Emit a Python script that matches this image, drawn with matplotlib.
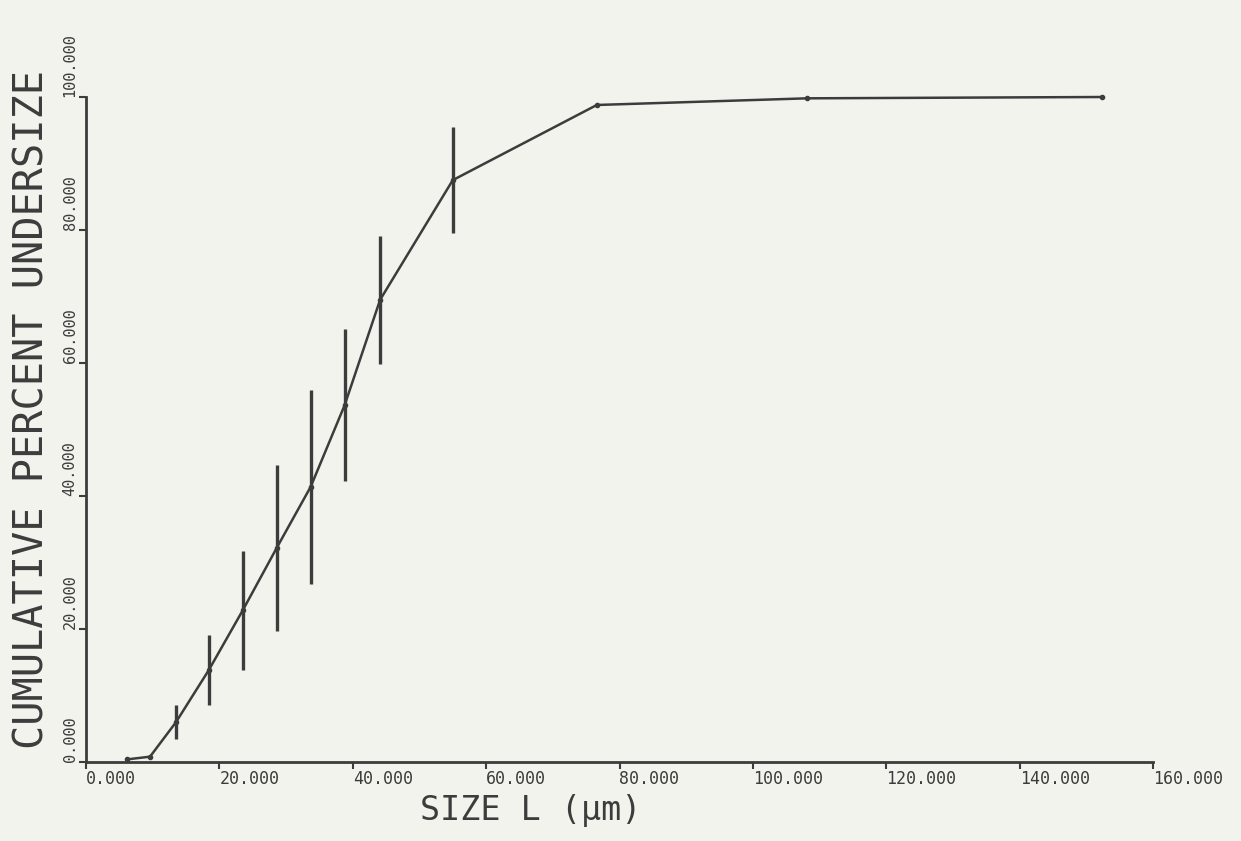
import matplotlib
matplotlib.use("Agg")
import matplotlib.pyplot as plt

# Data
size_um = [6.2, 9.6, 13.5, 18.4, 23.5, 28.6, 33.7, 38.8, 44.1, 55.0, 76.6, 108.1, 152.3]
cum_pct = [0.4, 0.8, 6.0, 13.8, 22.8, 32.2, 41.4, 53.7, 69.5, 87.5, 98.8, 99.8, 100.0]
err_pct = [0.0, 0.0, 2.5, 5.3, 9.0, 12.5, 14.6, 11.4, 9.6, 8.0, 0.0, 0.0, 0.0]

x_ticks = [0, 20, 40, 60, 80, 100, 120, 140, 160]
y_ticks = [0, 20, 40, 60, 80, 100]
x_tick_labels = ["0.000", "20.000", "40.000", "60.000", "80.000",
                 "100.000", "120.000", "140.000", "160.000"]
y_tick_labels = ["0.000", "20.000", "40.000", "60.000", "80.000", "100.000"]

paper = "#f3f3ee"
ink = "#3c3c3c"

fig = plt.figure(figsize=(12.41, 8.41), dpi=100, facecolor=paper)
ax = fig.add_axes([86/1241, (841-762)/841, (1153-86)/1241, 665/841])
ax.set_facecolor(paper)

ax.plot(size_um, cum_pct, color=ink, lw=1.8, marker="o", ms=3,
        clip_on=False, zorder=3)
ax.errorbar(size_um, cum_pct, yerr=err_pct, fmt="none", ecolor=ink,
            elinewidth=2.4, capsize=0, clip_on=False, zorder=3)

ax.set_xlim(0, 160)
ax.set_ylim(0, 100)
for s in ("top", "right"):
    ax.spines[s].set_visible(False)
for s in ("left", "bottom"):
    ax.spines[s].set_color(ink)
    ax.spines[s].set_linewidth(2.0)

mono = "DejaVu Sans Mono"
ax.set_xticks(x_ticks)
ax.set_xticklabels(x_tick_labels, fontsize=12, family=mono, color=ink)
ax.set_yticks(y_ticks)
ax.set_yticklabels(y_tick_labels, fontsize=11, family=mono, color=ink,
                   rotation=90, rotation_mode="anchor", ha="left", va="bottom")
ax.tick_params(axis="x", direction="out", length=5, width=1.5, color=ink, pad=1)
ax.tick_params(axis="y", direction="out", length=5, width=1.5, color=ink, pad=1)
for lab in ax.get_xticklabels():
    lab.set_horizontalalignment("left")

ax.set_xlabel("SIZE L (μm)", fontsize=24, family=mono, color=ink)
ax.xaxis.set_label_coords(0.417, -0.048)
ax.set_ylabel("CUMULATIVE PERCENT UNDERSIZE", fontsize=29, family=mono, color=ink)
ax.yaxis.set_label_coords(-0.031, 0.53)

fig.savefig("out.png", dpi=100, facecolor=paper)
